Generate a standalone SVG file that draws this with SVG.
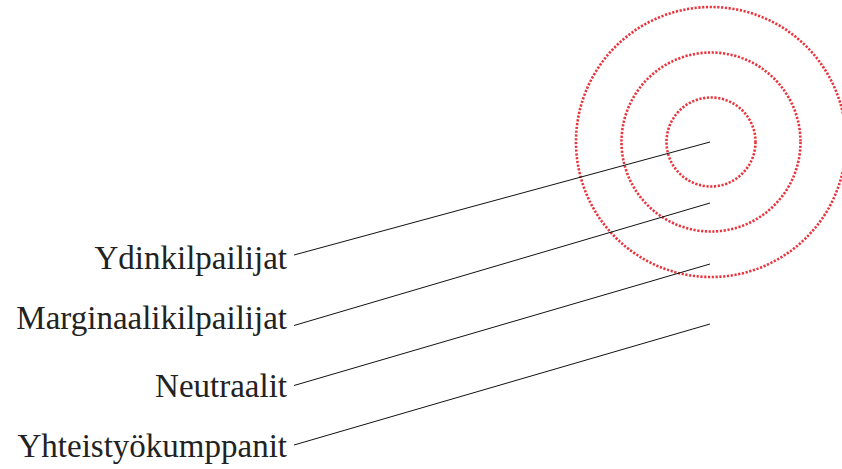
<svg xmlns="http://www.w3.org/2000/svg" width="842" height="469" viewBox="0 0 842 469">
<style>
.ring{fill:none;stroke:#e8353d;stroke-width:2.6;stroke-dasharray:2.2 1.6}
.lbl{font-family:"Liberation Serif","DejaVu Serif",serif;font-size:33px;fill:#222;text-anchor:end}
.conn line{stroke:#111;stroke-width:1}
</style>
<rect width="842" height="469" fill="#fff"/>
<g id="rings">
<circle class="ring" cx="711" cy="142" r="135"/>
<circle class="ring" cx="711" cy="142" r="89.5"/>
<circle class="ring" cx="711" cy="142" r="44.5"/>
</g>
<g id="connectors" class="conn">
<line x1="294" y1="255" x2="710" y2="142"/>
<line x1="294" y1="325.5" x2="710" y2="203"/>
<line x1="294" y1="385.5" x2="710" y2="264"/>
<line x1="294" y1="445" x2="710" y2="324"/>
</g>
<g id="n1"><text class="lbl" x="287" y="269">Ydinkilpailijat</text></g>
<g id="n2"><text class="lbl" x="287" y="329">Marginaalikilpailijat</text></g>
<g id="n3"><text class="lbl" x="287" y="397">Neutraalit</text></g>
<g id="n4"><text class="lbl" x="287" y="457">Yhteistyökumppanit</text></g>
</svg>
